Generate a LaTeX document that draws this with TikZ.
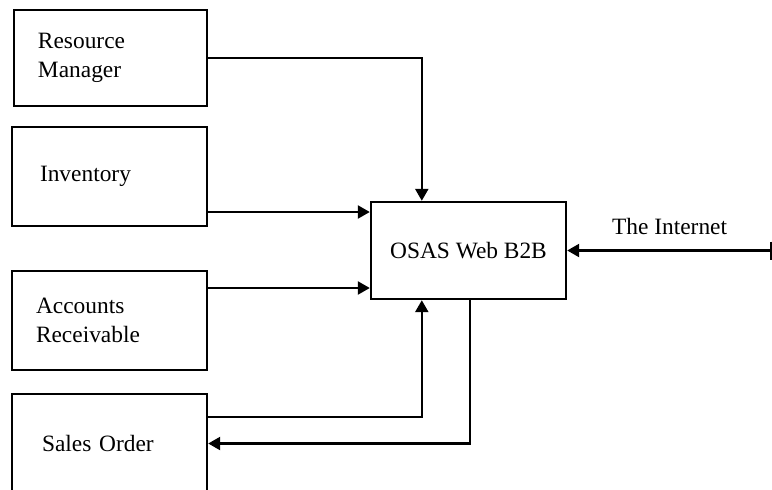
\documentclass[tikz,border=0pt]{standalone}
\usepackage{fontspec}
\setmainfont{Liberation Serif}
\usetikzlibrary{arrows.meta,calc}
\tikzset{
  box/.style={draw, line width=1.2pt, minimum width=97.5pt, minimum height=49.5pt,
    inner xsep=0pt, text width=72.5pt, align=left},
  arr/.style={line width=1.2pt, -{Triangle[length=6pt,width=6.5pt]}},
}
\begin{document}
\begin{tikzpicture}[x=0.5pt, y=-0.5pt, font=\fontsize{11.7}{14.5}\selectfont]
  \useasboundingbox (0,0) rectangle (772,489);
  \clip (0,0) rectangle (772,489);
  % 左侧模块
  \node[box, minimum width=96.5pt, minimum height=48pt] (rm) at (110.5,58) {Resource\\Manager};
  \node[box, text width=69.5pt] (inv) at (109.5,176.5) {Inventory};
  \node[box, text width=73.5pt] (acc) at (109.5,320.5) {Accounts\\Receivable};
  \node[box, text width=67.5pt] (sales) at (109.5,443.5) {Sales Order};
  % 中心模块
  \node[draw, line width=1.2pt, minimum width=97.5pt, minimum height=48.5pt] (osas) at (468.5,250.5) {OSAS Web B2B};
  % 连线
  \draw[arr] (rm.east) -| ($(osas.north west)+(52,0)$);
  \draw[arr] (inv.east |- 0,212) -- (osas.west |- 0,212);
  \draw[arr] (acc.east |- 0,288) -- (osas.west |- 0,288);
  \draw[arr] (sales.east |- 0,417) -| ($(osas.south west)+(52,0)$);
  \draw[arr] ($(osas.south west)+(100,0)$) |- (sales.east);
  % 外部网络
  \coordinate (net) at (772,250.5);
  \draw[line width=1.2pt, {Triangle[length=6pt,width=6.5pt]}-{Bar[width=9pt]}] (osas.east) -- (net)
    node[midway, above=4pt] (netlabel) {The Internet};
\end{tikzpicture}
\end{document}
